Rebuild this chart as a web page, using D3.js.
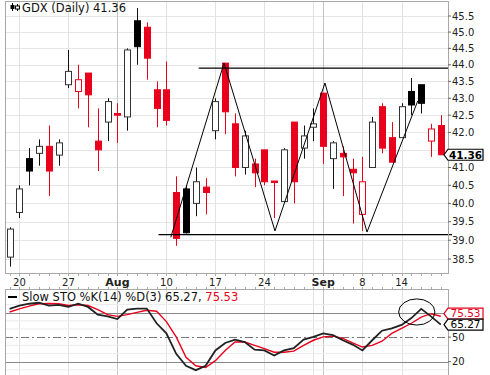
<!DOCTYPE html>
<html><head><meta charset="utf-8">
<script src="https://cdn.jsdelivr.net/npm/d3@7/dist/d3.min.js"></script>
<style>html,body{margin:0;padding:0;background:#fff;}svg{display:block;}</style>
</head><body>
<svg id="c" width="490" height="375"></svg>
<script>
// ---------- DATA ----------
const dates = ["Jul 17","Jul 20","Jul 21","Jul 22","Jul 23","Jul 24","Jul 27","Jul 28","Jul 29","Jul 30","Jul 31",
  "Aug 3","Aug 4","Aug 5","Aug 6","Aug 7","Aug 10","Aug 11","Aug 12","Aug 13","Aug 14","Aug 17","Aug 18","Aug 19","Aug 20","Aug 21",
  "Aug 24","Aug 25","Aug 26","Aug 27","Aug 28","Aug 31","Sep 1","Sep 2","Sep 3","Sep 4","Sep 8","Sep 9","Sep 10","Sep 11",
  "Sep 14","Sep 15","Sep 16","Sep 17","Sep 18"];
const opens  = [38.55,39.75,41.25,41.4,41.6,41.35,43.4,43.2,43.75,41.75,42.3,42.55,42.45,45.35,45.15,43.25,43.25,40.3,40.4,40.0,40.45,42.05,44.05,42.25,41.0,41.1,41.5,40.62,40.05,42.3,41.55,42.15,43.15,41.25,41.4,40.95,39.7,41.0,42.75,41.85,41.85,43.2,43.4,41.75,42.2];
const highs  = [39.35,40.5,41.55,41.8,42.2,41.8,44.45,44.0,43.75,42.7,43.0,42.85,44.5,45.75,45.3,43.5,44.1,40.75,40.5,41.0,40.7,43.0,44.05,42.55,42.05,41.25,41.5,40.62,41.55,42.3,42.2,42.7,43.15,41.75,41.6,41.25,41.3,42.45,42.85,42.3,42.85,43.6,43.4,42.25,42.5];
const lows   = [38.3,39.6,40.5,41.05,40.2,41.05,43.3,42.7,42.15,40.9,41.75,41.7,42.05,44.0,43.55,42.15,42.2,38.85,39.18,39.65,39.7,41.8,41.95,40.75,40.8,40.45,40.5,39.6,40.05,40.0,41.25,41.75,41.1,40.4,40.2,39.45,39.25,41.0,41.4,41.15,41.85,42.5,42.55,41.3,41.35];
const closes = [39.3,40.4,40.9,41.6,40.9,41.7,43.8,43.55,43.1,41.5,42.9,42.5,44.45,44.55,44.2,42.7,42.35,39.05,39.2,40.6,40.3,42.9,42.6,41.0,41.9,40.85,40.6,40.58,41.5,40.6,41.9,42.25,41.6,41.7,41.3,40.85,40.6,42.3,41.55,41.15,42.75,42.8,42.85,42.1,41.36];
const priorClose = 38.9;
const stoK = [84.6,88.5,90.9,92.1,88.7,89.6,87.1,90.9,87.0,77.5,75.4,72.1,83.7,85.0,85.0,67.0,54.6,29.6,15.0,9.6,15.0,33.7,42.9,47.0,44.0,34.6,33.7,27.5,33.7,36.6,47.0,50.4,54.6,52.5,46.2,40.9,33.7,46.2,57.9,60.8,65.0,73.3,84.6,75.4,65.27];
const stoD = [80.8,84.6,87.9,90.9,91.2,90.9,88.7,89.6,88.7,83.7,77.5,75.4,77.5,80.4,82.9,81.7,69.0,50.4,25.4,15.0,12.9,21.2,33.7,44.0,44.0,40.0,35.9,31.6,31.6,32.9,40.0,46.2,50.4,51.2,48.4,42.9,37.9,40.0,45.0,54.6,60.8,67.0,74.6,78.7,75.53];
const priceTicks = [38.5,39.0,39.5,40.0,40.5,41.0,41.5,42.0,42.5,43.0,43.5,44.0,44.5,45.0,45.5];
const stoTicks = [20,50,80];
const stoGrid = [10,30,40,60,70,90];
const tickDates = ["Jul 20","Jul 27","Aug 3","Aug 10","Aug 17","Aug 24","Sep 1","Sep 8","Sep 14"];
const tickLabels = ["20","27","Aug","10","17","24","Sep","8","14"];
const monthDates = ["Aug 3","Sep 1"];
const gridDates = ["Jul 20","Jul 27","Aug 3","Aug 10","Aug 17","Aug 24","Aug 31","Sep 1","Sep 8","Sep 14"];
// annotations (date index, price)
const zigIdx   = [16.45,21.88,27.08,32.18,36.47,41.65];
const zigPrice = [39.08,44.05,39.25,43.45,39.22,42.92];
const resistance = {from:19.3, price:43.9};
const support    = {from:15.2, price:39.15};
const ellipseAt  = {idx:41.55, val:80.8, rIdx:1.85, rVal:16};
const lastClose = 41.36, lastK = 65.27, lastD = 75.53;

// ---------- SCALES ----------
const RED = "#e8001c";
const svg = d3.select("#c");
const L = 5, R = 448, T = 1, B = 273, ST = 289, SB = 376;
const x = d3.scaleLinear().domain([0, dates.length-1]).range([9.6, 440.8]);
const y = d3.scaleLog().domain([38.5, 45.5]).range([259, 16]);
const ys = d3.scaleLinear().domain([0,100]).range([378, 296.3]);
const xi = d => x(dates.indexOf(d));
const FONT = "DejaVu Sans, Verdana, sans-serif";

svg.append("rect").attr("width",490).attr("height",375).attr("fill","#fff");

// ---------- MAIN PANEL GRID ----------
const g = svg.append("g");
g.selectAll(".hg").data(priceTicks).join("line")
  .attr("x1",L).attr("x2",R).attr("y1",d=>Math.round(y(d))+0.5).attr("y2",d=>Math.round(y(d))+0.5)
  .attr("stroke","#e6e6e6").attr("stroke-width",1);
[[T,B],[ST,SB]].forEach(([a,b])=>{
  svg.append("g").selectAll("line").data(gridDates).join("line")
    .attr("x1",d=>Math.round(xi(d))+0.5).attr("x2",d=>Math.round(xi(d))+0.5)
    .attr("y1",a).attr("y2",b)
    .attr("stroke",d=>monthDates.includes(d)?"#c4c4c4":"#e2e2e2").attr("stroke-width",1);
});

// ---------- CANDLES ----------
const cg = svg.append("g");
const bw = 6;
dates.forEach((d,i)=>{
  const pc = i===0 ? priorClose : closes[i-1];
  const col = closes[i] >= pc ? "#000" : RED;
  const hollow = closes[i] > opens[i];
  const cx = Math.round(x(i)) + 0.5;
  const top = y(Math.max(opens[i],closes[i])), bot = y(Math.min(opens[i],closes[i]));
  cg.append("line").attr("x1",cx).attr("x2",cx).attr("y1",y(highs[i])).attr("y2",y(lows[i]))
    .attr("stroke", col===RED ? RED : "#111").attr("stroke-width",1);
  cg.append("rect").attr("x",cx-bw/2).attr("y",top).attr("width",bw).attr("height",Math.max(1.5,bot-top))
    .attr("fill", hollow ? "#fff" : col)
    .attr("stroke", hollow ? (col===RED?RED:"#333") : col).attr("stroke-width",1);
});

// ---------- ANNOTATION LINES ----------
svg.append("line").attr("x1",x(resistance.from)).attr("x2",R).attr("y1",y(resistance.price)).attr("y2",y(resistance.price))
  .attr("stroke","#000").attr("stroke-width",1.3);
svg.append("line").attr("x1",x(support.from)).attr("x2",R+4).attr("y1",y(support.price)).attr("y2",y(support.price))
  .attr("stroke","#000").attr("stroke-width",1.3);
svg.append("path").attr("d", d3.line()(zigIdx.map((v,i)=>[x(v), y(zigPrice[i])])))
  .attr("fill","none").attr("stroke","#000").attr("stroke-width",1);

// ---------- MAIN FRAME & AXIS ----------
svg.append("rect").attr("x",L+0.5).attr("y",T+0.5).attr("width",R-L).attr("height",B-T)
  .attr("fill","none").attr("stroke","#a8a8a8");
// labels hidden behind the last-price tag are skipped
const tagY = y(lastClose);
const shownPrice = priceTicks.filter(d => Math.abs(y(d) - tagY) > 9);
svg.selectAll(".pt").data(shownPrice).join("text")
  .attr("x",452).attr("y",d=>y(d)+3.5).text(d=>d.toFixed(1))
  .attr("font-family",FONT).attr("font-size",10).attr("fill","#222");
svg.selectAll(".ptk").data(priceTicks).join("line")
  .attr("x1",R).attr("x2",R+3).attr("y1",d=>y(d)).attr("y2",d=>y(d)).attr("stroke","#666");
// day ticks
svg.append("g").selectAll("line").data(dates).join("line")
  .attr("x1",(d,i)=>Math.round(x(i))+0.5).attr("x2",(d,i)=>Math.round(x(i))+0.5)
  .attr("y1",B).attr("y2",B+3).attr("stroke","#aaa");
svg.append("g").selectAll("line").data(dates).join("line")
  .attr("x1",(d,i)=>Math.round(x(i))+0.5).attr("x2",(d,i)=>Math.round(x(i))+0.5)
  .attr("y1",ST-2).attr("y2",ST).attr("stroke","#aaa");
// date labels
svg.selectAll(".dl").data(tickDates).join("text")
  .attr("x",d=>xi(d)).attr("y",286).attr("text-anchor","middle")
  .text((d,i)=>tickLabels[i])
  .attr("font-family",FONT)
  .attr("font-size",(d,i)=>monthDates.includes(d)?11:10)
  .attr("font-weight",(d,i)=>monthDates.includes(d)?"bold":"normal")
  .attr("fill","#222");

// last value tags
function tag(yv, label, col, bold){
  const gg = svg.append("g");
  gg.append("path").attr("d",`M444,${yv} L448,${yv-5.5} L483,${yv-5.5} L483,${yv+5.5} L448,${yv+5.5} Z`)
    .attr("fill","#fff").attr("stroke",col).attr("stroke-width",1.2);
  gg.append("text").attr("x",465.5).attr("y",yv+3.8).attr("text-anchor","middle").text(label)
    .attr("font-family",FONT).attr("font-size",10.5).attr("font-weight",bold?"bold":"normal").attr("fill",col);
}
tag(tagY, lastClose.toFixed(2), "#000", true);

// legend
const lg = svg.append("g");
lg.append("line").attr("x1",12.5).attr("x2",12.5).attr("y1",3).attr("y2",11).attr("stroke","#000");
lg.append("rect").attr("x",10.5).attr("y",5).attr("width",4).attr("height",4).attr("fill","#000");
lg.append("line").attr("x1",17.5).attr("x2",17.5).attr("y1",4).attr("y2",11).attr("stroke","#000");
lg.append("rect").attr("x",15.5).attr("y",6).attr("width",4).attr("height",3).attr("fill","#fff").attr("stroke","#000");
lg.append("text").attr("x",22).attr("y",12).text("GDX (Daily) " + lastClose.toFixed(2))
  .attr("font-family",FONT).attr("font-size",11.5).attr("fill","#111");

// ---------- STO PANEL ----------
svg.selectAll(".sg").data(stoGrid).join("line")
  .attr("x1",L).attr("x2",R).attr("y1",d=>ys(d)).attr("y2",d=>ys(d)).attr("stroke","#ececec");
svg.selectAll(".sl").data(stoTicks).join("line")
  .attr("x1",L).attr("x2",R).attr("y1",d=>Math.round(ys(d))+0.5).attr("y2",d=>Math.round(ys(d))+0.5)
  .attr("stroke",d=>d===50?"#777":"#888").attr("stroke-width",1)
  .attr("stroke-dasharray",d=>d===50?"8,3,2,3":null);
svg.append("rect").attr("x",L+0.5).attr("y",ST+0.5).attr("width",R-L).attr("height",SB-ST)
  .attr("fill","none").attr("stroke","#a8a8a8");

const sline = d3.line().x((d,i)=>x(i)).y(d=>ys(d));
svg.append("path").attr("d",sline(stoD)).attr("fill","none").attr("stroke",RED).attr("stroke-width",1.4);
svg.append("path").attr("d",sline(stoK)).attr("fill","none").attr("stroke","#222").attr("stroke-width",1.8);

// ellipse
svg.append("ellipse").attr("cx",x(ellipseAt.idx)).attr("cy",ys(ellipseAt.val))
  .attr("rx",x(ellipseAt.idx+ellipseAt.rIdx)-x(ellipseAt.idx))
  .attr("ry",ys(ellipseAt.val-ellipseAt.rVal)-ys(ellipseAt.val))
  .attr("fill","none").attr("stroke","#000").attr("stroke-width",1);

const yK = ys(lastK), yD = Math.min(ys(lastD), yK-11);
const shownSto = stoTicks.filter(d => Math.abs(ys(d)-yK) > 9 && Math.abs(ys(d)-yD) > 9);
svg.selectAll(".st").data(shownSto).join("text")
  .attr("x",452).attr("y",d=>ys(d)+3.5).text(d=>d)
  .attr("font-family",FONT).attr("font-size",10).attr("fill","#222");
svg.selectAll(".stk").data(stoTicks).join("line")
  .attr("x1",R).attr("x2",R+3).attr("y1",d=>ys(d)).attr("y2",d=>ys(d)).attr("stroke","#666");
tag(yD, lastD.toFixed(2), RED, false);
tag(yK, lastK.toFixed(2), "#000", false);

// sto legend
svg.append("line").attr("x1",8).attr("x2",17).attr("y1",297).attr("y2",297).attr("stroke","#000").attr("stroke-width",2);
const st = svg.append("text").attr("x",22).attr("y",300.5).attr("font-family",FONT).attr("font-size",11.5).attr("fill","#111");
st.append("tspan").text("Slow STO %K(14) %D(3) " + lastK.toFixed(2) + ", ");
st.append("tspan").attr("fill",RED).text(lastD.toFixed(2));
</script>
</body></html>
